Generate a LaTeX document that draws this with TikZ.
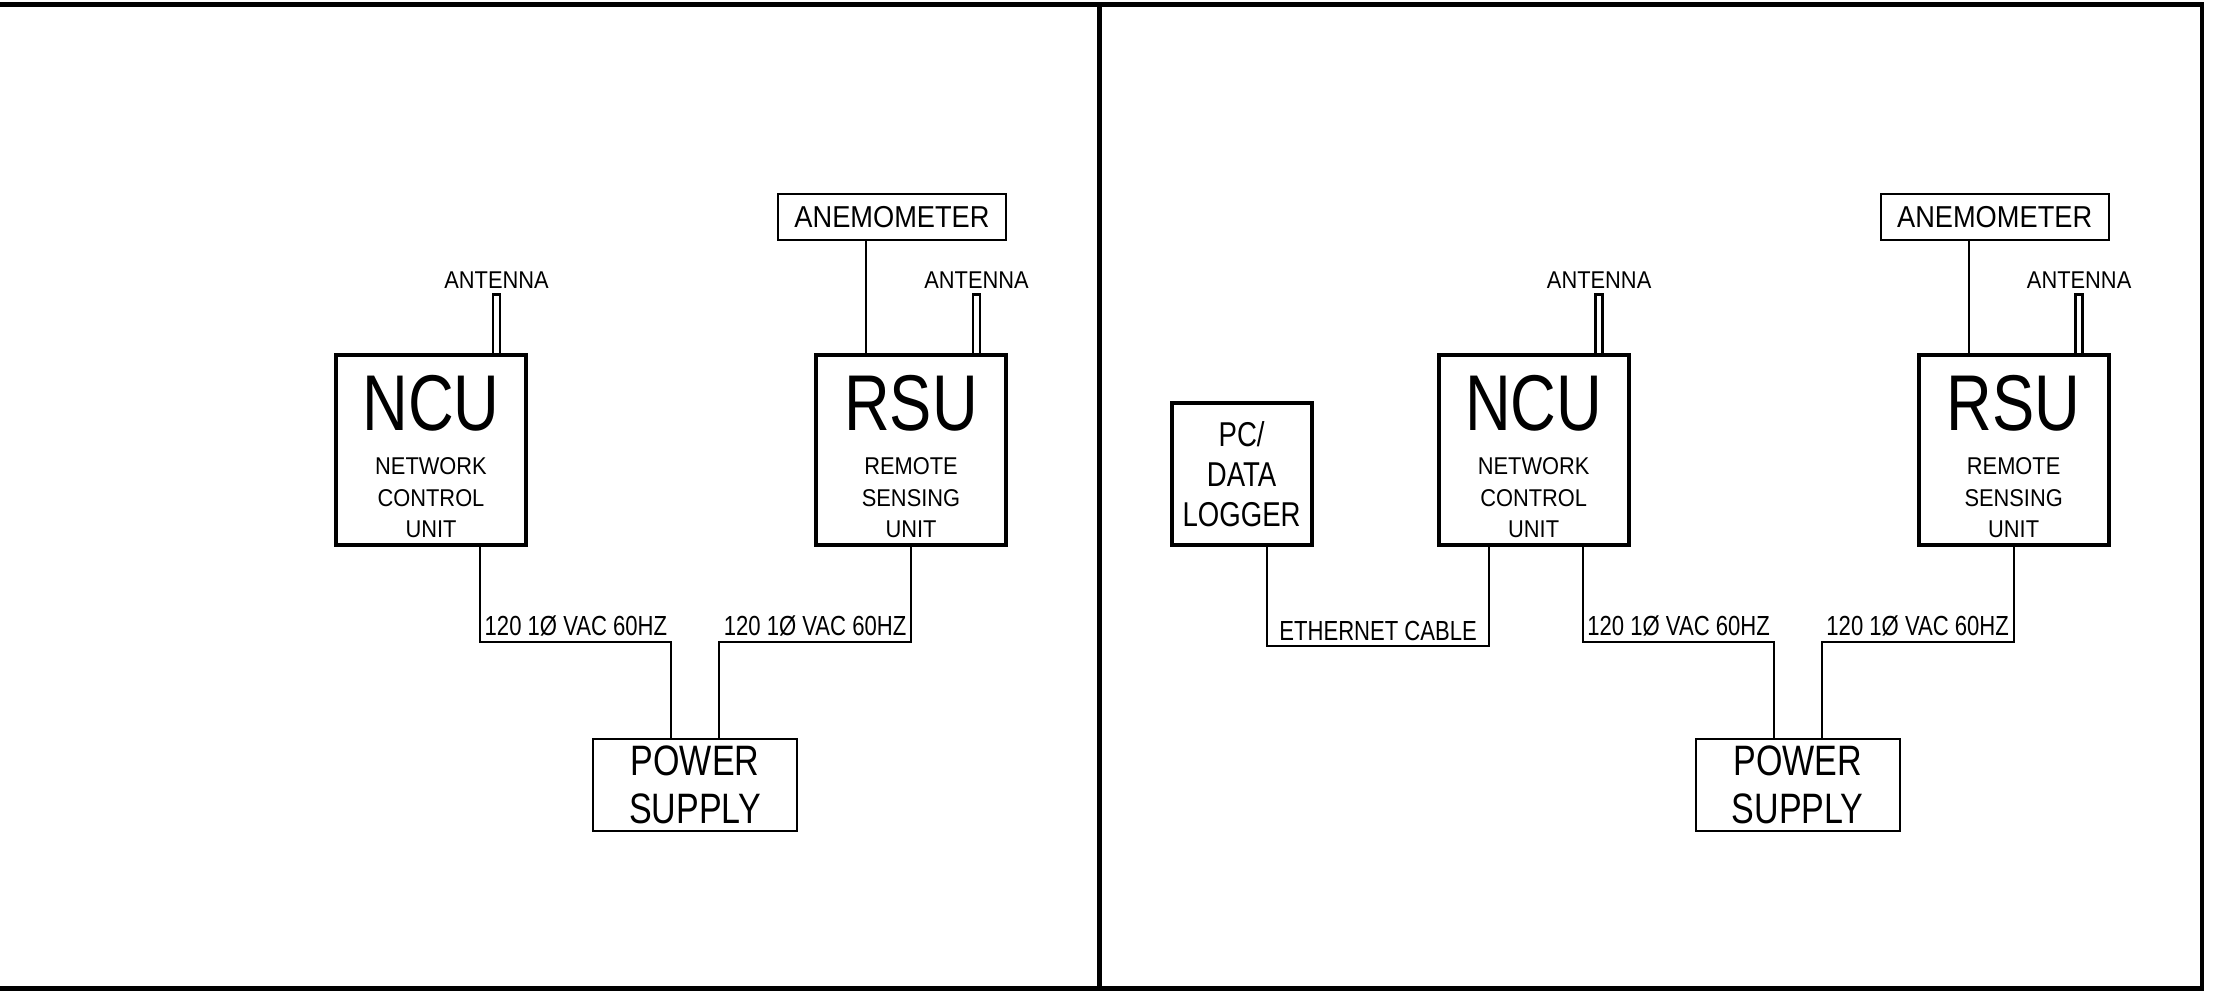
\documentclass[tikz,border=0pt]{standalone}
\usepackage{fontspec}
\setmainfont{Liberation Sans}
\newfontfamily\fa{Liberation Sans}[FakeStretch=0.8]
\newfontfamily\fb{Liberation Sans}[FakeStretch=0.9]
\usetikzlibrary{calc}
\tikzset{
  frameline/.style={line width=1.3pt, line join=miter},
  unitbox/.style={draw, line width=1.1pt, minimum width=1.90cm, minimum height=1.90cm, inner sep=0pt, outer sep=0pt},
  thinbox/.style={draw, line width=0.55pt, inner sep=0pt, outer sep=0pt},
  antbox/.style={draw, line width=0.7pt, minimum width=0.07cm, minimum height=0.605cm, inner sep=0pt, outer sep=0pt, anchor=south},
  wire/.style={line width=0.5pt},
  bigf/.style={font=\fa\fontsize{22.5}{22.5}\selectfont, inner sep=0pt, anchor=base},
  subf/.style={font=\fb\fontsize{6.9}{9}\selectfont, inner sep=0pt, anchor=north, align=center},
  antf/.style={font=\fb\fontsize{6.9}{8}\selectfont, inner sep=0pt, anchor=base},
  anemf/.style={font=\fb\fontsize{8.6}{10}\selectfont},
  voltf/.style={font=\fa\fontsize{7.85}{9}\selectfont, inner sep=0pt},
  psf/.style={font=\fa\fontsize{12.1}{13.7}\selectfont, align=center},
  pcf/.style={font=\fa\fontsize{9.8}{11.4}\selectfont, align=center},
}
\newcommand\drawpanel{%
  \node[unitbox] (ncu) at (431,450) {};
  \node[unitbox] (rsu) at (911,450) {};
  \node[bigf] (ncut) at (431,431) {NCU};
  \node[bigf] (rsut) at (911,431) {RSU};
  \node[subf] (ncus) at (431,457) {NETWORK\\CONTROL\\UNIT};
  \node[subf] (rsus) at (911,457) {REMOTE\\SENSING\\UNIT};
  \node[antbox] (ncuant) at ($(ncu.north)+(65.5,0)$) {};
  \node[antbox] (rsuant) at ($(rsu.north)+(65.5,0)$) {};
  \node[antf] (ncuantt) at ([yshift=0.055cm]ncuant.north) {ANTENNA};
  \node[antf] (rsuantt) at ([yshift=0.055cm]rsuant.north) {ANTENNA};
  \node[thinbox, anemf, minimum width=2.28cm, minimum height=0.46cm] (anem) at (892,217) {ANEMOMETER};
  \draw[wire] ($(rsu.north)+(-45,0)$) coordinate (aw) -- (aw |- anem.south);
  \node[thinbox, psf, minimum width=2.04cm, minimum height=0.92cm] (ps) at (695,785) {POWER\\SUPPLY};
  \draw[wire] ($(ncu.south)+(49,0)$) -- ++(0,97) -| ($(ps.north)+(-24,0)$);
  \draw[wire] (rsu.south) -- ++(0,97) -| ($(ps.north)+(24,0)$);
  \node[voltf, anchor=base west] (v1) at (484,635) {120 1Ø VAC 60HZ};
  \node[voltf, anchor=base east] (v2) at (907,635) {120 1Ø VAC 60HZ};
}
\begin{document}
\begin{tikzpicture}[x=0.01cm, y=-0.01cm]
  \useasboundingbox (0,0) rectangle (2214,991);
  \fill[white] (0,0) rectangle (2214,991);
  \begin{scope}[name prefix=L-]
    \drawpanel
  \end{scope}
  \begin{scope}[xshift=11.02cm, name prefix=R-]
    \drawpanel
    \node[unitbox, pcf, minimum width=1.40cm, minimum height=1.42cm] (pc) at (139,474) {PC/\\DATA\\LOGGER};
    \draw[wire] ($(pc.south)+(25,0)$) -- ++(0,101) -| ($(ncu.south)+(-45,0)$);
    \node[voltf, anchor=base west] (eth) at (176,640) {ETHERNET CABLE};
  \end{scope}
  \draw[frameline] (0,4.7) -- (2202,4.7) -- (2202,988.7) -- (0,988.7);
  \draw[frameline] (1099.5,4.7) -- (1099.5,988.7);
\end{tikzpicture}
\end{document}
